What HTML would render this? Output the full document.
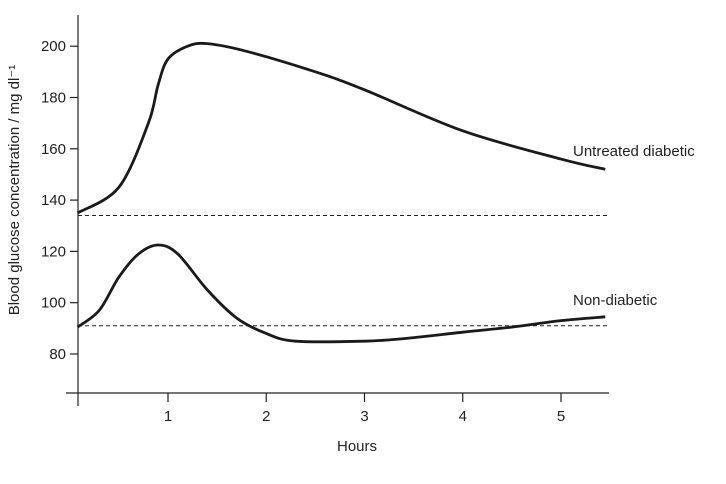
<!DOCTYPE html>
<html><head><meta charset="utf-8"><style>
body{margin:0;background:#fff}
svg{display:block;font-family:"Liberation Sans",Arial,sans-serif}
</style></head><body>
<svg id="chart" width="726" height="484" viewBox="0 0 726 484"></svg>
<script>
const xTicks=[1,2,3,4,5];
const yTicks=[80,100,120,140,160,180,200];
const baselines=[134,91];
const untreatedHours=[0.08,0.5,0.8,0.9,1.0,1.2,1.4,1.8,2.5,3,4,5,5.45];
const untreatedValues=[135,145,170,185,195,200,201,198,190,183,167,156,152];
const nonDiabeticHours=[0.08,0.3,0.5,0.7,0.9,1.1,1.4,1.7,2.0,2.3,3,3.4,4,4.5,5,5.45];
const nonDiabeticValues=[90.5,97,110,119,122.5,119,105,94,88,85,85,86,88.5,90.5,93,94.5];

const NS='http://www.w3.org/2000/svg';
const svg=document.getElementById('chart');
const xs=h=>69.75+h*98.25;
const ys=v=>354-(v-80)*2.565;
function el(tag,attrs,parent){const e=document.createElementNS(NS,tag);for(const k in attrs)e.setAttribute(k,attrs[k]);(parent||svg).appendChild(e);return e;}

const yAxis=el('line',{x1:78,y1:15,x2:78,y2:406,stroke:'#222','stroke-width':1.2});


const xAxis=el('line',{x1:66,y1:393,x2:609,y2:393,stroke:'#222','stroke-width':1.2});



xTicks.forEach(t=>{
  const x=xs(t);
  const tk=el('line',{x1:x,y1:393,x2:x,y2:402,stroke:'#222','stroke-width':1.2});
  
  
  const tx=el('text',{x:x,y:421,'text-anchor':'middle','font-size':15,fill:'#222'});
  tx.textContent=t;
  
  
});
yTicks.forEach(t=>{
  const y=ys(t);
  const tk=el('line',{x1:70,y1:y,x2:78,y2:y,stroke:'#222','stroke-width':1.2});
  
  
  const tx=el('text',{x:66,y:y+5,'text-anchor':'end','font-size':15,fill:'#222'});
  tx.textContent=t;
  
  
});
baselines.forEach(b=>{
  const l=el('line',{x1:78,y1:ys(b),x2:608,y2:ys(b),stroke:'#222','stroke-width':1,'stroke-dasharray':'4,3'});
  
  
});
function curve(hs,vs){
  const p=hs.map((h,i)=>[xs(h),ys(vs[i])]);
  let d='M'+p[0][0]+','+p[0][1];
  for(let i=0;i<p.length-1;i++){
    const p0=p[Math.max(0,i-1)],p1=p[i],p2=p[i+1],p3=p[Math.min(p.length-1,i+2)];
    const c1=[p1[0]+(p2[0]-p0[0])/6,p1[1]+(p2[1]-p0[1])/6];
    const c2=[p2[0]-(p3[0]-p1[0])/6,p2[1]-(p3[1]-p1[1])/6];
    d+=' C'+c1+' '+c2+' '+p2;
  }
  return d;
}
const u=el('path',{d:curve(untreatedHours,untreatedValues),fill:'none',stroke:'#1a1a1a','stroke-width':2.8});


const n=el('path',{d:curve(nonDiabeticHours,nonDiabeticValues),fill:'none',stroke:'#1a1a1a','stroke-width':2.8});


</script>
<svg width="0" height="0"></svg>
<div style="position:absolute;left:0;top:0;width:726px;height:484px;pointer-events:none;font-family:'Liberation Sans',Arial,sans-serif;color:#222">
<div style="position:absolute;left:573px;top:143px;font-size:15px">Untreated diabetic</div>
<div style="position:absolute;left:573px;top:292px;font-size:15px">Non-diabetic</div>
<div style="position:absolute;left:337px;top:438px;font-size:15px">Hours</div>
<div style="position:absolute;left:14px;top:190px;width:0;height:0"><div style="position:absolute;transform:translate(-50%,-50%) rotate(-90deg);white-space:nowrap;font-size:15px">Blood glucose concentration / mg dl⁻¹</div></div>
</div>
</body></html>
